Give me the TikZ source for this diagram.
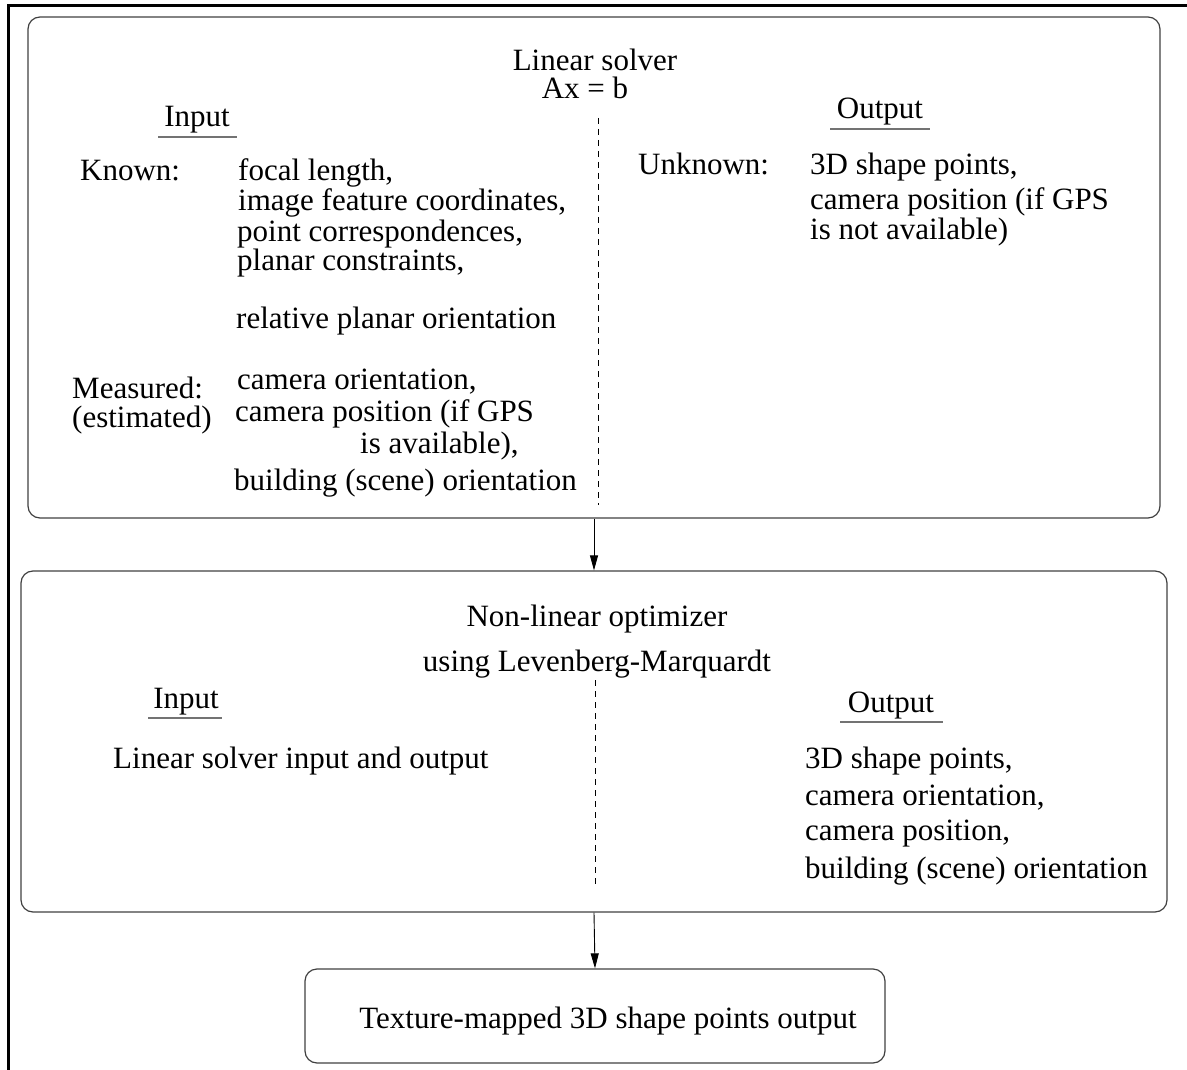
\documentclass[tikz,border=0pt]{standalone}
\usepackage{fontspec}
\setmainfont{Liberation Serif}
\usetikzlibrary{arrows.meta}
\begin{document}
\begin{tikzpicture}[x=1pt,y=-1pt,
  txt/.style={inner sep=0pt, font=\fontsize{31}{34}\selectfont},
  lt/.style={txt, anchor=base west},
  ct/.style={txt, anchor=base},
  panel/.style={draw=black!75, line width=1.2pt, rounded corners=12pt, inner sep=0pt},
  rule/.style={draw=black!55, line width=1.6pt},
  divider/.style={draw=black, line width=0.8pt, dash pattern=on 6pt off 5pt},
  flow/.style={draw=black, line width=0.9pt, -{Triangle[length=15pt,width=8pt]}}]
\useasboundingbox (0,0) rectangle (1187,1070);
% outer frame
\draw[line width=3pt] (8,1070) -- (8,6) -- (1187,6);

% ---------- linear solver ----------
\node[panel, minimum width=1132pt, minimum height=501pt] (lin) at (594,267.5) {};
\node[ct] (linT) at (595,71) {Linear solver};
\node[ct] (linEq) at (585,99) {Ax = b};
\node[ct] (linIn) at (197,127) {Input};
\draw[rule] (158,137) -- (237,137);
\node[ct] (linOut) at (880,119) {Output};
\draw[rule] (830,129) -- (930,129);
\draw[divider] (598,118) -- (598,505);

\node[lt] (known) at (80,181) {Known:};
\node[lt] (k1) at (238,181) {focal length,};
\node[lt] (k2) at (238,211) {image feature coordinates,};
\node[lt] (k3) at (237,241) {point correspondences,};
\node[lt] (k4) at (237,270) {planar constraints,};
\node[lt] (k5) at (236,328) {relative planar orientation};

\node[lt] (meas) at (72,398) {Measured:};
\node[lt] (est) at (72,427) {(estimated)};
\node[lt] (m1) at (237,389) {camera orientation,};
\node[lt] (m2) at (235,421) {camera position (if GPS};
\node[lt] (m3) at (360,453) {is available),};
\node[lt] (m4) at (234,490) {building (scene) orientation};

\node[lt] (unk) at (638,175) {Unknown:};
\node[lt] (u1) at (810,175) {3D shape points,};
\node[lt] (u2) at (810,210) {camera position (if GPS};
\node[lt] (u3) at (810,240) {is not available)};

% ---------- non-linear optimizer ----------
\node[panel, minimum width=1146pt, minimum height=341pt] (nlo) at (594,741.5) {};
\node[ct] (nloT) at (597,626) {Non-linear optimizer};
\node[ct] (nloT2) at (597,671) {using Levenberg-Marquardt};
\node[ct] (nloIn) at (186,708) {Input};
\draw[rule] (148,718) -- (222,718);
\node[ct] (nloOut) at (891,712) {Output};
\draw[rule] (840,722) -- (943,722);
\draw[divider] (595,680) -- (595,888);

\node[lt] (i1) at (113,768) {Linear solver input and output};
\node[lt] (o1) at (805,768) {3D shape points,};
\node[lt] (o2) at (805,805) {camera orientation,};
\node[lt] (o3) at (805,840) {camera position,};
\node[lt] (o4) at (805,878) {building (scene) orientation};

% ---------- result ----------
\node[panel, minimum width=580pt, minimum height=94pt] (res) at (595,1016) {};
\node[ct] (resT) at (608,1028) {Texture-mapped 3D shape points output};

% ---------- flow ----------
\draw[flow] (lin.south) -- (nlo.north);
\draw[flow] (nlo.south) -- (res.north);
\end{tikzpicture}
\end{document}
